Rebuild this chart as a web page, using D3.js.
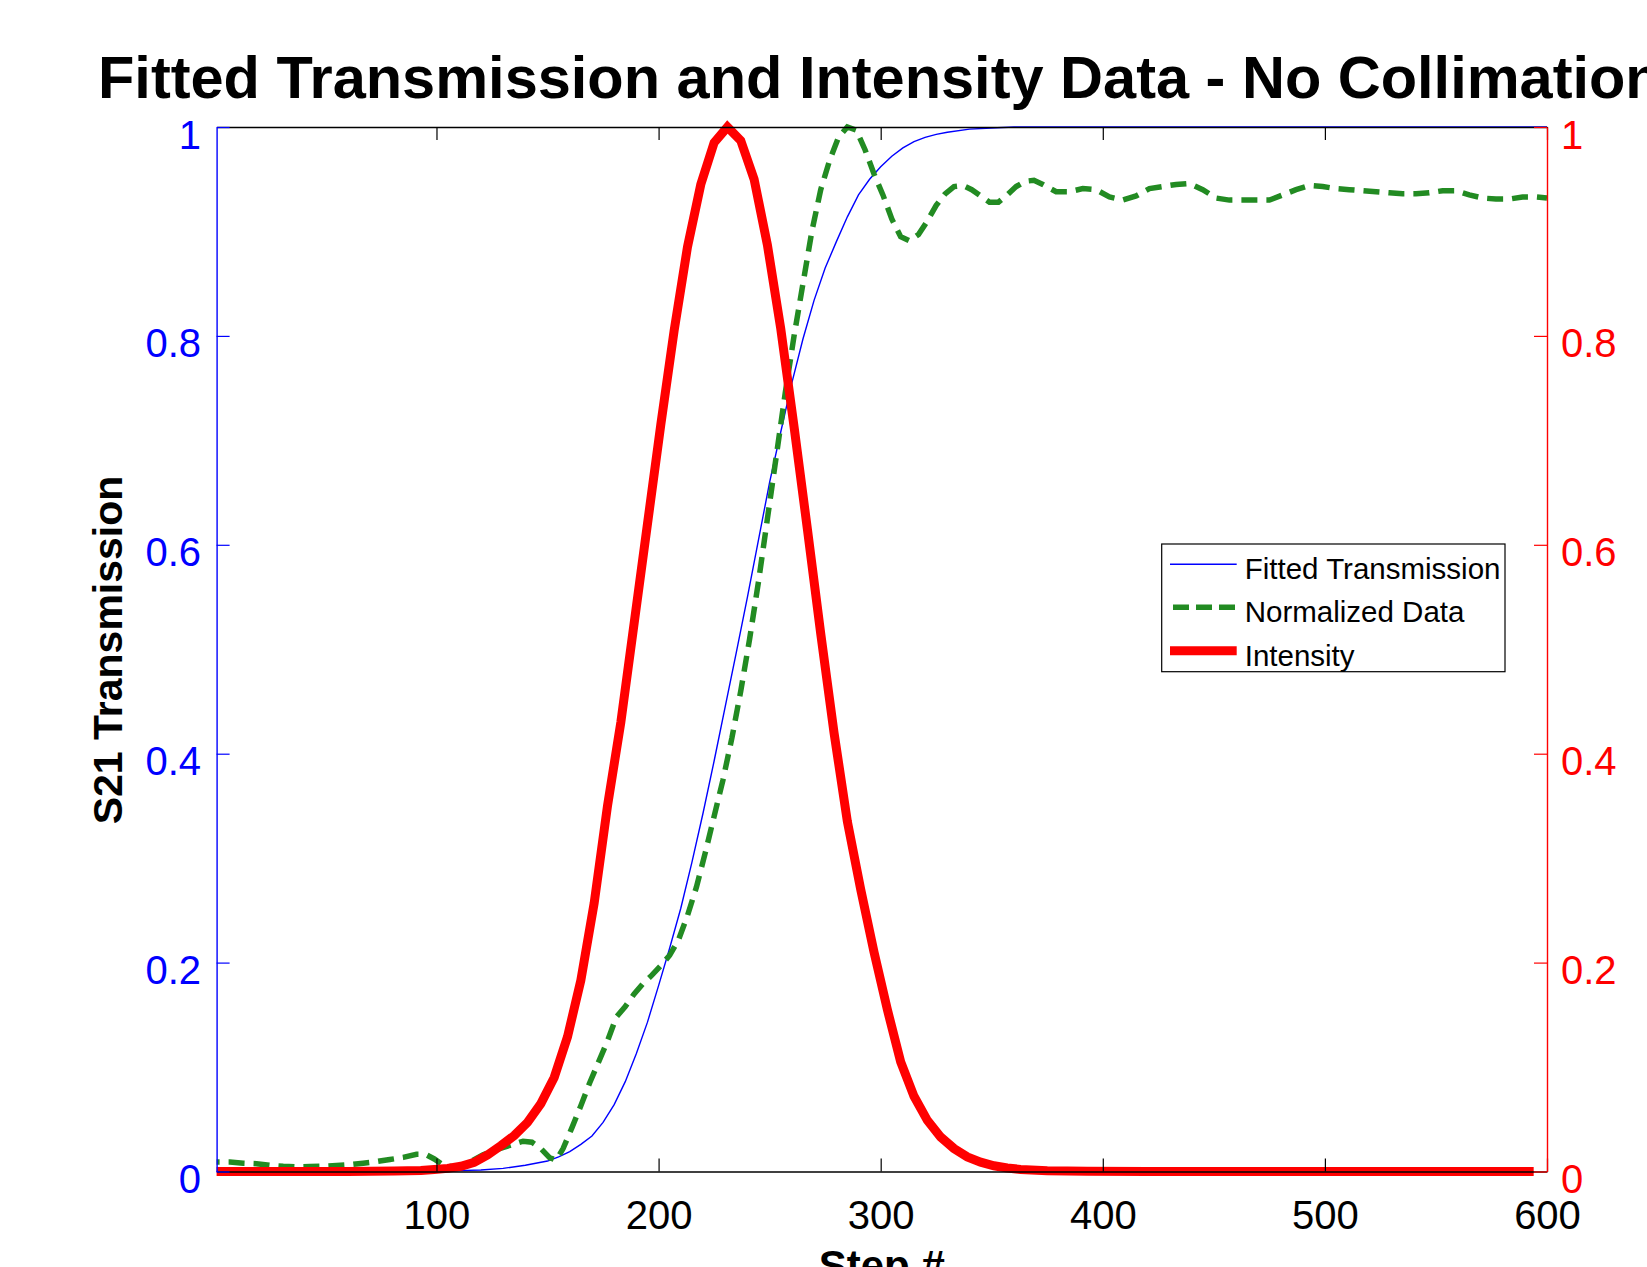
<!DOCTYPE html>
<html>
<head>
<meta charset="utf-8">
<script src="https://cdn.jsdelivr.net/npm/d3@7"></script>
<style>
  html, body { margin: 0; padding: 0; background: #fff; }
  svg { display: block; }
</style>
</head>
<body>
<svg id="chart" width="1647" height="1267"></svg>
<script>
// ---------------- data ----------------
const titleText = "Fitted Transmission and Intensity Data - No Collimation";
const xLabelText = "Step #";
const yLabelText = "S21 Transmission";
const xTicks = [100, 200, 300, 400, 500, 600];
const yTicks = [0, 0.2, 0.4, 0.6, 0.8, 1];
const seriesNames = ["Fitted Transmission", "Normalized Data", "Intensity"];

// Fitted transmission (blue, left axis)
const fittedTransmission = [
  [1, 0], [90, 0], [100, 0.0002], [110, 0.0008], [120, 0.0015], [130, 0.003],
  [140, 0.006], [150, 0.010], [155, 0.014], [160, 0.019], [165, 0.026], [170, 0.034],
  [175, 0.047], [180, 0.064], [185, 0.086], [190, 0.113], [195, 0.143], [200, 0.178],
  [205, 0.214], [210, 0.252], [215, 0.296], [220, 0.343], [225, 0.393], [230, 0.445],
  [235, 0.497], [240, 0.55], [245, 0.605], [250, 0.66], [255, 0.708], [260, 0.755],
  [265, 0.797], [270, 0.834], [275, 0.865], [280, 0.89], [285, 0.914], [290, 0.935],
  [295, 0.95], [300, 0.962], [305, 0.972], [310, 0.98], [315, 0.986], [320, 0.99],
  [325, 0.993], [330, 0.995], [340, 0.998], [350, 0.999], [360, 1], [450, 1], [600, 1]
];

// Normalized data (green dashed, left axis)
const normalizedData = [
  [1, 0.009], [7, 0.009], [13, 0.008], [19, 0.0075], [25, 0.006], [31, 0.005],
  [37, 0.0045], [43, 0.0048], [49, 0.005], [55, 0.0057], [61, 0.0065], [67, 0.008],
  [73, 0.0095], [79, 0.0115], [85, 0.0135], [91, 0.0165], [95, 0.0165], [99, 0.012],
  [103, 0.006], [109, 0.004], [115, 0.009], [121, 0.016], [127, 0.021], [133, 0.025],
  [139, 0.029], [143, 0.028], [147, 0.022], [151, 0.013], [154, 0.011], [157, 0.022],
  [161, 0.042], [165, 0.063], [169, 0.085], [173, 0.105], [177, 0.125], [181, 0.148],
  [185, 0.158], [189, 0.170], [193, 0.180], [197, 0.188], [201, 0.197], [205, 0.207],
  [209, 0.222], [213, 0.245], [217, 0.272], [221, 0.305], [225, 0.34], [229, 0.375],
  [233, 0.415], [237, 0.46], [241, 0.51], [245, 0.565], [249, 0.625], [253, 0.685],
  [257, 0.745], [261, 0.80], [265, 0.85], [269, 0.90], [273, 0.94], [277, 0.968],
  [281, 0.99], [285, 1.0], [289, 0.997], [293, 0.978], [297, 0.955], [301, 0.935],
  [305, 0.912], [309, 0.895], [313, 0.891], [317, 0.897], [321, 0.91], [325, 0.925],
  [329, 0.936], [333, 0.943], [337, 0.944], [341, 0.94], [345, 0.934], [349, 0.928],
  [353, 0.928], [357, 0.935], [361, 0.943], [365, 0.948], [369, 0.949], [373, 0.945],
  [379, 0.938], [385, 0.938], [391, 0.941], [397, 0.94], [403, 0.933], [409, 0.930],
  [415, 0.934], [421, 0.941], [427, 0.943], [433, 0.945], [439, 0.946], [445, 0.940],
  [451, 0.932], [457, 0.930], [463, 0.930], [469, 0.930], [475, 0.930], [481, 0.935],
  [487, 0.940], [493, 0.944], [499, 0.943], [505, 0.941], [511, 0.940], [517, 0.939],
  [523, 0.938], [529, 0.937], [535, 0.936], [541, 0.936], [547, 0.937], [553, 0.939],
  [559, 0.939], [565, 0.935], [571, 0.932], [577, 0.931], [583, 0.931], [589, 0.933],
  [595, 0.933], [600, 0.932]
];

// Intensity (red, right axis)
const intensity = [
  [1, 0], [30, 0], [60, 0], [81, 0.0005], [93, 0.001], [99, 0.002], [105, 0.003],
  [111, 0.005], [117, 0.0087], [123, 0.0158], [129, 0.0247], [135, 0.0344],
  [141, 0.047], [147, 0.065], [153, 0.090], [159, 0.129], [165, 0.183], [171, 0.257],
  [177, 0.35], [183, 0.43], [189, 0.525], [195, 0.62], [201, 0.715], [207, 0.805],
  [213, 0.885], [219, 0.945], [225, 0.985], [231, 1.0], [237, 0.987], [243, 0.95],
  [249, 0.887], [255, 0.807], [261, 0.713], [267, 0.615], [273, 0.515], [279, 0.42],
  [285, 0.335], [291, 0.27], [297, 0.21], [303, 0.155], [309, 0.105], [315, 0.072],
  [321, 0.049], [327, 0.033], [333, 0.022], [339, 0.014], [345, 0.009], [351, 0.0055],
  [357, 0.0033], [363, 0.002], [375, 0.0008], [393, 0.0002], [420, 0], [500, 0], [594, 0]
];

// ---------------- layout ----------------
const L = 216.6, R = 1547, T = 127, B = 1171.5;
const FONT = "'Liberation Sans', Arial, Helvetica, sans-serif";

const svg = d3.select("#chart");
const x = d3.scaleLinear().domain([1, 600]).range([L, R]);
const yL = d3.scaleLinear().domain([0, 1]).range([B, T]);
const yR = d3.scaleLinear().domain([0, 1]).range([B, T]);

const line = (ys) => d3.line().x(d => x(d[0])).y(d => ys(d[1]));

// series
svg.append("path").datum(fittedTransmission)
  .attr("d", line(yL)).attr("fill", "none")
  .attr("stroke", "#0000ff").attr("stroke-width", 1.4);

svg.append("path").datum(normalizedData)
  .attr("d", line(yL)).attr("fill", "none")
  .attr("stroke", "#228b22").attr("stroke-width", 5.5)
  .attr("stroke-dasharray", "16,9").attr("stroke-dashoffset", -12);

svg.append("path").datum(intensity)
  .attr("d", line(yR)).attr("fill", "none")
  .attr("stroke", "#ff0000").attr("stroke-width", 9)
  .attr("stroke-linejoin", "miter");

// axes
function styleAxis(g, color) {
  g.attr("font-family", FONT).attr("font-size", 40).attr("color", color);
  g.selectAll(".domain").attr("stroke-width", 1.4);
  g.selectAll(".tick line").attr("stroke-width", 1.2);
}

// top (no labels)
svg.append("g").attr("transform", `translate(0,${T})`)
  .call(d3.axisTop(x).tickValues(xTicks).tickSizeInner(-13).tickSizeOuter(0).tickFormat(""))
  .call(g => styleAxis(g, "#000"));

// bottom
svg.append("g").attr("transform", `translate(0,${B})`)
  .call(d3.axisBottom(x).tickValues(xTicks).tickSizeInner(-13).tickSizeOuter(0).tickFormat(d3.format("d")))
  .call(g => styleAxis(g, "#000"))
  .call(g => g.selectAll(".tick text").attr("y", 57).attr("dy", null).attr("fill", "#000"));

// left
svg.append("g").attr("transform", `translate(${L},0)`)
  .call(d3.axisLeft(yL).tickValues(yTicks).tickSizeInner(-13).tickSizeOuter(0).tickFormat(d3.format("~g")))
  .call(g => styleAxis(g, "#0000ff"))
  .call(g => g.selectAll(".tick text").attr("x", -15.6).attr("y", 21).attr("dy", null));

// right
svg.append("g").attr("transform", `translate(${R},0)`)
  .call(d3.axisRight(yR).tickValues(yTicks).tickSizeInner(-13).tickSizeOuter(0).tickFormat(d3.format("~g")))
  .call(g => styleAxis(g, "#ff0000"))
  .call(g => g.selectAll(".tick text").attr("x", 14).attr("y", 21).attr("dy", null));

// title
svg.append("text").attr("x", 98).attr("y", 97.5)
  .attr("font-family", FONT).attr("font-weight", "bold").attr("font-size", 59.5)
  .attr("fill", "#000").text(titleText);

// axis labels
svg.append("text").attr("transform", "translate(121.5,650) rotate(-90)")
  .attr("text-anchor", "middle")
  .attr("font-family", FONT).attr("font-weight", "bold").attr("font-size", 41)
  .attr("fill", "#000").text(yLabelText);

svg.append("text").attr("x", (L + R) / 2).attr("y", 1280)
  .attr("text-anchor", "middle")
  .attr("font-family", FONT).attr("font-weight", "bold").attr("font-size", 42)
  .attr("fill", "#000").text(xLabelText);

// legend
const lg = svg.append("g").attr("transform", "translate(1161.7,544)");
lg.append("rect").attr("x", 0).attr("y", 0).attr("width", 343.3).attr("height", 127.7)
  .attr("fill", "#fff").attr("stroke", "#000").attr("stroke-width", 1.2);
const rowY = [20.3, 63.3, 106.7];
const legStyles = [
  { color: "#0000ff", width: 1.4, dash: null },
  { color: "#228b22", width: 5.5, dash: "16,7" },
  { color: "#ff0000", width: 9, dash: null }
];
seriesNames.forEach((name, i) => {
  const s = legStyles[i];
  const ln = lg.append("line").attr("x1", 8.3).attr("x2", 75).attr("y1", rowY[i]).attr("y2", rowY[i])
    .attr("stroke", s.color).attr("stroke-width", s.width);
  if (s.dash) ln.attr("stroke-dasharray", s.dash).attr("stroke-dashoffset", -3);
  lg.append("text").attr("x", 83).attr("y", rowY[i] + 15)
    .attr("font-family", FONT).attr("font-size", 29.5).attr("fill", "#000").text(name);
});
</script>
</body>
</html>
